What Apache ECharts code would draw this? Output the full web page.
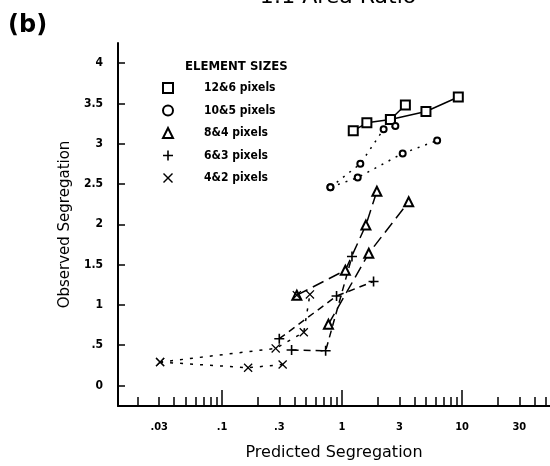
<!DOCTYPE html>
<html lang="en">
<head>
    <meta charset="UTF-8">
    <title>Observed vs Predicted Segregation</title>
    <style>
        html, body { margin: 0; padding: 0; background: #fff; }
        #main { width: 550px; height: 466px; }
    </style>
</head>
<body>
<div id="main"></div>

<script src="https://cdn.jsdelivr.net/npm/echarts@6/dist/echarts.min.js"></script>
<script>
    // 数据 (x = predicted, y = observed)
    var names = ['12&6 pixels', '10&5 pixels', '8&4 pixels', '6&3 pixels', '4&2 pixels'];

    var sq12a = [[1.24, 3.16], [1.61, 3.26], [2.53, 3.30], [5.0, 3.40], [9.3, 3.58]];
    var sq12b = [[2.53, 3.30], [3.37, 3.48]];

    var ci10a = [[0.80, 2.46], [1.35, 2.58], [3.2, 2.88], [6.2, 3.04]];
    var ci10b = [[0.80, 2.46], [1.42, 2.75], [2.22, 3.18], [2.78, 3.22]];

    var tr8a = [[0.42, 1.12], [1.065, 1.43], [1.58, 1.99], [1.95, 2.41]];
    var tr8b = [[0.77, 0.76], [1.67, 1.64], [3.59, 2.28]];

    var pl6a = [[0.30, 0.58], [0.90, 1.11], [1.83, 1.29]];
    var pl6b = [[0.38, 0.44], [0.73, 0.43], [1.21, 1.60]];

    var x4a = [[0.0305, 0.29], [0.165, 0.22], [0.32, 0.26]];
    var x4b = [[0.0305, 0.29], [0.28, 0.46], [0.48, 0.66], [0.54, 1.13]];
    var x4c = [[0.42, 1.12]];

    // 刻度
    var xMinorTicks = [0.02, 0.03, 0.04, 0.05, 0.06, 0.07, 0.08, 0.09,
        0.2, 0.3, 0.4, 0.5, 0.6, 0.7, 0.8, 0.9,
        2, 3, 4, 5, 6, 7, 8, 9, 20, 30, 40, 50];
    var xMajorTicks = [0.1, 1, 10];
    var xLabels = [0.03, 0.1, 0.3, 1, 3, 10, 30];
    var yTicks = [0, 0.5, 1, 1.5, 2, 2.5, 3, 3.5, 4];

    var plusPath = 'path://M4.2,0h1.6v4.2h4.2v1.6h-4.2v4.2h-1.6v-4.2h-4.2v-1.6h4.2z';
    var crossPath = 'path://M1,0L5,4L9,0L10,1L6,5L10,9L9,10L5,6L1,10L0,9L4,5L0,1Z';

    var narrow = "'DejaVu Sans Condensed', 'Liberation Sans Narrow', sans-serif";

    function dropZero(v) {
        var s = String(v);
        return s.indexOf('0.') === 0 ? s.substring(1) : s;
    }

    function mk(name, data, symbol, size, dash) {
        return {
            name: name,
            type: 'line',
            data: data,
            symbol: symbol,
            symbolSize: size,
            itemStyle: { color: '#000', borderWidth: 1.5 },
            lineStyle: { color: '#000', width: 1.5, type: dash },
            emphasis: { disabled: true },
            z: 3
        };
    }

    var myChart = echarts.init(document.getElementById('main'));

    var option = {
        animation: false,
        backgroundColor: '#fff',
        grid: { left: 118, right: 0, top: 43, bottom: 57 },
        graphic: [
            {
                type: 'text', left: 8, top: 14,
                style: { text: '(b)', fontSize: 24, fontWeight: 'bold', fontFamily: 'DejaVu Sans', fill: '#000' }
            },
            {
                type: 'text', x: 338, y: 8,
                style: { text: '1:1 Area Ratio', fontSize: 22, fontFamily: 'DejaVu Sans', fill: '#000', align: 'center', verticalAlign: 'bottom' }
            },
            {
                type: 'text', left: 185, top: 60,
                style: { text: 'ELEMENT SIZES', fontSize: 13, fontWeight: 'bold', fontFamily: narrow, fill: '#000' }
            }
        ],
        legend: {
            orient: 'vertical',
            left: 157,
            top: 77,
            itemWidth: 10,
            itemHeight: 10,
            itemGap: 10.5,
            selectedMode: false,
            data: [
                { name: names[0], icon: 'emptyRect' },
                { name: names[1], icon: 'emptyCircle' },
                { name: names[2], icon: 'emptyTriangle' },
                { name: names[3], icon: plusPath },
                { name: names[4], icon: crossPath }
            ],
            textStyle: { fontSize: 12, fontWeight: 'bold', fontFamily: narrow, color: '#000', padding: [0, 0, 0, 26] }
        },
        xAxis: [
            {
                type: 'log',
                logBase: 10,
                min: 0.0136,
                max: 54,
                name: 'Predicted Segregation',
                nameLocation: 'middle',
                nameGap: 39,
                nameTextStyle: { fontSize: 16, fontFamily: 'DejaVu Sans', color: '#000' },
                axisLine: { onZero: false, lineStyle: { color: '#000', width: 2 } },
                axisTick: { inside: true, length: 9, customValues: xMinorTicks, lineStyle: { color: '#000', width: 1.5 } },
                axisLabel: {
                    customValues: xLabels,
                    margin: 16,
                    fontSize: 11,
                    fontWeight: 'bold',
                    fontFamily: narrow,
                    color: '#000',
                    formatter: dropZero
                },
                splitLine: { show: false },
                minorTick: { show: false }
            },
            {
                type: 'log',
                logBase: 10,
                min: 0.0136,
                max: 54,
                position: 'bottom',
                axisLine: { show: false, onZero: false },
                axisTick: { inside: true, length: 16, customValues: xMajorTicks, lineStyle: { color: '#000', width: 1.5 } },
                axisLabel: { show: false },
                splitLine: { show: false }
            }
        ],
        yAxis: {
            type: 'value',
            min: -0.255,
            max: 4.25,
            name: 'Observed Segregation',
            nameLocation: 'middle',
            nameGap: 42,
            nameTextStyle: { fontSize: 15, fontFamily: 'DejaVu Sans', color: '#000' },
            axisLine: { show: true, onZero: false, lineStyle: { color: '#000', width: 2 } },
            axisTick: { show: true, inside: true, length: 7, customValues: yTicks, lineStyle: { color: '#000', width: 1.5 } },
            axisLabel: {
                customValues: yTicks,
                margin: 15,
                fontSize: 12,
                fontWeight: 'bold',
                fontFamily: narrow,
                color: '#000',
                formatter: dropZero
            },
            splitLine: { show: false }
        },
        series: [
            mk(names[0], sq12a, 'emptyRect', 9, 'solid'),
            mk(names[0], sq12b, 'emptyRect', 9, 'solid'),
            mk(names[1], ci10a, 'emptyCircle', 6, [2, 6]),
            mk(names[1], ci10b, 'emptyCircle', 6, [2, 6]),
            mk(names[2], tr8a, 'emptyTriangle', 9, [12, 6]),
            mk(names[2], tr8b, 'emptyTriangle', 9, [12, 6]),
            mk(names[3], pl6a, plusPath, 10, [7, 5]),
            mk(names[3], pl6b, plusPath, 10, [7, 5]),
            mk(names[4], x4a, crossPath, 9, [3, 7]),
            mk(names[4], x4b, crossPath, 9, [3, 7]),
            mk(names[4], x4c, crossPath, 9, [3, 7])
        ]
    };

    myChart.setOption(option);
</script>
</body>
</html>
